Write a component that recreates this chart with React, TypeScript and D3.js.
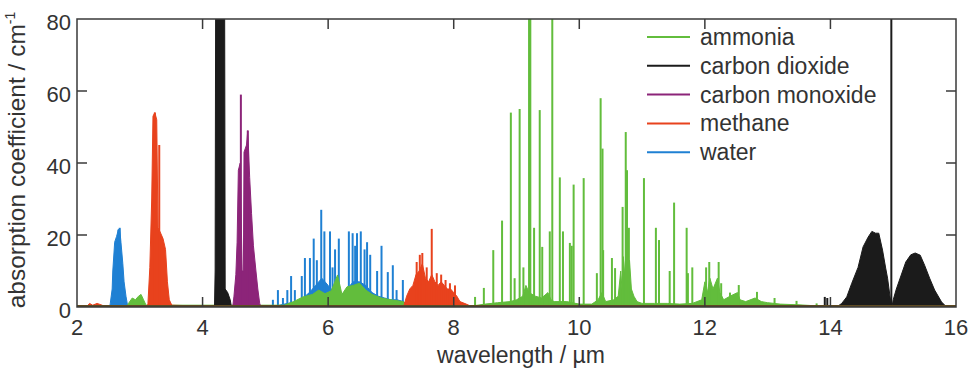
import React, { useEffect, useRef } from "react";
import * as d3 from "d3";

// wavelength (um), absorption coefficient (1/cm)
// "band" arrays are the dense envelopes, "lines" arrays are the single sharp lines

const ammoniaBand: [number, number][] = [
  [2.0, 0.3], [2.8, 0.3], [2.82, 1], [2.88, 2.5], [2.93, 2], [2.98, 3], [3.02, 3.5], [3.06, 2], [3.1, 0.5],
  [5.3, 0.5], [5.45, 1.5], [5.6, 2.8], [5.75, 3.5], [5.85, 4.7], [5.95, 3.7], [6.05, 4.5], [6.15, 8.9],
  [6.22, 3.5], [6.3, 5.6], [6.4, 6], [6.5, 6.6], [6.6, 4.7], [6.7, 3.5], [6.85, 2.5], [7.0, 2], [7.19, 1.5], [7.3, 0.3],
  [8.3, 0.3], [8.5, 0.8], [8.7, 1.2], [8.9, 1.5], [9.0, 2], [9.1, 3], [9.15, 6], [9.2, 4], [9.3, 3], [9.4, 2.5],
  [9.5, 4], [9.55, 2], [9.6, 1.5], [9.8, 1.5], [10.0, 0.8], [10.2, 0.8], [10.3, 2], [10.36, 4], [10.42, 1.5],
  [10.55, 2], [10.62, 3], [10.66, 10], [10.68, 5], [10.7, 14], [10.72, 9], [10.75, 17], [10.77, 11], [10.8, 13],
  [10.83, 5], [10.87, 3], [10.92, 1.5], [11.0, 1], [11.2, 1], [11.4, 1], [11.6, 0.8], [11.8, 1], [11.95, 2],
  [12.0, 7], [12.04, 4], [12.08, 8], [12.13, 5], [12.2, 8], [12.24, 4], [12.3, 2], [12.4, 3], [12.52, 4],
  [12.56, 2], [12.65, 1.5], [12.8, 2.5], [12.9, 1.5], [13.0, 1.2], [13.2, 0.8], [13.5, 0.6], [13.8, 0.3], [16.0, 0.3],
];
const ammoniaLines: [number, number][] = [
  [8.34, 2.8], [8.48, 5.3], [8.63, 15.8], [8.77, 24], [8.91, 54], [8.97, 8], [9.05, 55], [9.11, 11],
  [9.2, 90], [9.22, 90], [9.28, 22], [9.37, 54.7], [9.41, 16.7], [9.53, 21], [9.57, 90], [9.69, 36],
  [9.74, 21], [9.85, 17.8], [9.88, 17], [9.91, 34], [10.07, 35.8], [10.28, 9.4], [10.34, 58], [10.37, 44],
  [10.38, 15.8], [10.52, 13.6], [10.57, 10.8], [10.69, 27.8], [10.74, 48.6], [10.76, 38], [10.79, 22],
  [11.03, 35.8], [11.22, 22], [11.27, 18.6], [11.44, 10], [11.51, 29], [11.71, 22], [11.73, 9.4], [11.8, 11],
  [12.02, 11], [12.07, 12.5], [12.22, 12.5], [12.26, 6.6], [12.4, 4], [12.54, 6.1], [12.83, 4.2], [13.11, 2.5],
  [13.46, 1.7], [13.78, 1],
];

const co2Band: [number, number][] = [
  [4.19, 0], [4.2, 10], [4.21, 100], [4.35, 100], [4.36, 5], [4.4, 4], [4.44, 2], [4.46, 0],
  [14.1, 0], [14.18, 1], [14.26, 2.8], [14.34, 6.6], [14.44, 11], [14.52, 16.7], [14.6, 19.4], [14.66, 21],
  [14.72, 20.5], [14.77, 20.5], [14.83, 15.8], [14.88, 10.8], [14.91, 8], [14.95, 2.8], [14.98, 0],
  [15.0, 2], [15.05, 5], [15.1, 7.5], [15.2, 12.5], [15.28, 14.5], [15.35, 15], [15.43, 14.4], [15.5, 11.6],
  [15.58, 8], [15.66, 4.7], [15.77, 1.4], [15.85, 0],
];
const co2Lines: [number, number][] = [
  [13.91, 2.8], [13.95, 2.5], [14.97, 90],
];

const coBand: [number, number][] = [
  [4.48, 0], [4.5, 3], [4.53, 9], [4.55, 18], [4.57, 38], [4.6, 40], [4.63, 10], [4.65, 10], [4.66, 43],
  [4.7, 45], [4.72, 49], [4.75, 36], [4.78, 26], [4.81, 17], [4.85, 10], [4.88, 5], [4.91, 1], [4.93, 0],
];
const coLines: [number, number][] = [
  [4.61, 59], [4.72, 49],
];

const methaneBand: [number, number][] = [
  [2.15, 0], [2.2, 1], [2.25, 0.5], [2.32, 1], [2.4, 0.5], [2.45, 0],
  [3.12, 0], [3.13, 1], [3.16, 11], [3.19, 30], [3.21, 53], [3.24, 54], [3.27, 52], [3.29, 22], [3.32, 21],
  [3.37, 19], [3.41, 16], [3.44, 7], [3.47, 2], [3.51, 0.5], [3.7, 0.4], [3.72, 0],
  [7.2, 0], [7.25, 3], [7.3, 5], [7.35, 6], [7.4, 9], [7.45, 10], [7.5, 12], [7.55, 8], [7.6, 7], [7.65, 9],
  [7.7, 7], [7.75, 6], [7.8, 7], [7.85, 6], [7.9, 5], [7.95, 5], [8.0, 4], [8.05, 3], [8.1, 1.5], [8.2, 0.8], [8.3, 0],
];
const methaneLines: [number, number][] = [
  [3.24, 54], [3.31, 45], [7.41, 12.5], [7.46, 14.5], [7.5, 15], [7.57, 11], [7.65, 21.7], [7.73, 9.4],
  [7.8, 9], [7.87, 7.5], [7.94, 6.6], [8.02, 6],
];

const waterBand: [number, number][] = [
  [2.52, 0], [2.53, 1], [2.56, 5], [2.57, 10], [2.6, 18], [2.63, 19.6], [2.66, 21.5], [2.68, 21.8],
  [2.7, 18], [2.73, 12], [2.75, 7], [2.78, 3], [2.81, 0],
  [5.1, 0], [5.3, 0.8], [5.5, 1.5], [5.6, 2.5], [5.7, 4], [5.8, 6], [5.9, 8], [6.0, 6], [6.1, 4], [6.2, 3],
  [6.3, 5], [6.4, 7], [6.5, 7], [6.6, 6], [6.7, 4], [6.8, 3], [6.9, 2.5], [7.0, 2], [7.1, 2], [7.2, 1.5], [7.3, 0],
];
const waterLines: [number, number][] = [
  [2.66, 21.5], [2.68, 22], [5.12, 2], [5.2, 4.7], [5.28, 2.5], [5.35, 4.7], [5.41, 8.6], [5.47, 4.7],
  [5.58, 8.6], [5.63, 13.6], [5.71, 13.6], [5.77, 19], [5.82, 13], [5.89, 27], [5.94, 21], [6.03, 21],
  [6.07, 11], [6.11, 16], [6.17, 19], [6.33, 21], [6.39, 20.5], [6.43, 17], [6.46, 20.5], [6.52, 21],
  [6.58, 16], [6.62, 18], [6.67, 14.5], [6.78, 10], [6.85, 17], [6.95, 9.7], [7.03, 11.6], [7.09, 4.7], [7.19, 7.5],
];

const seriesNames = ["ammonia", "carbon dioxide", "carbon monoxide", "methane", "water"];
const seriesColors = ["#62bd3c", "#1b1b1b", "#8c2479", "#e8421d", "#1f80d3"];
const xTicks = [2, 4, 6, 8, 10, 12, 14, 16];
const yTicks = [0, 20, 40, 60, 80];

const font = "'Liberation Sans', Arial, Helvetica, sans-serif";

function MakeSvg(ref: React.MutableRefObject<null>) {
  const W = 969;
  const H = 372;
  const left = 77, right = 956, top = 19, bottom = 307;

  d3.select(ref.current).selectAll("*").remove();
  const svg = d3
    .select(ref.current)
    .append("svg")
    .attr("width", W)
    .attr("height", H)
    .style("position", "absolute")
    .style("left", 0)
    .style("top", 0)
    .style("background", "#fff");

  const x = d3.scaleLinear().domain([2, 16]).range([left, right]);
  const y = d3.scaleLinear().domain([0, 80]).range([bottom, top]);

  svg
    .append("clipPath")
    .attr("id", "plotclip")
    .append("rect")
    .attr("x", left)
    .attr("y", top)
    .attr("width", right - left)
    .attr("height", bottom - top);

  const plot = svg.append("g").attr("clip-path", "url(#plotclip)");

  const area = d3
    .area<[number, number]>()
    .x((d) => x(d[0]))
    .y0(y(0))
    .y1((d) => y(d[1]));

  // draw order: water first, the rest on top of it
  const layers: { band: [number, number][]; lines: [number, number][]; color: string }[] = [
    { band: waterBand, lines: waterLines, color: seriesColors[4] },
    { band: ammoniaBand, lines: ammoniaLines, color: seriesColors[0] },
    { band: co2Band, lines: co2Lines, color: seriesColors[1] },
    { band: coBand, lines: coLines, color: seriesColors[2] },
    { band: methaneBand, lines: methaneLines, color: seriesColors[3] },
  ];

  layers.forEach((l) => {
    plot
      .append("path")
      .datum(l.band)
      .attr("d", area)
      .style("fill", l.color)
      .style("stroke", l.color)
      .style("stroke-width", 1);

    plot
      .append("g")
      .selectAll("line")
      .data(l.lines)
      .enter()
      .append("line")
      .attr("x1", (d) => x(d[0]))
      .attr("x2", (d) => x(d[0]))
      .attr("y1", y(0))
      .attr("y2", (d) => y(d[1]))
      .style("stroke", l.color)
      .style("stroke-width", 2);
  });

  // zero line (all series overlap here)
  svg
    .append("line")
    .attr("x1", left)
    .attr("x2", right)
    .attr("y1", y(0) - 1)
    .attr("y2", y(0) - 1)
    .style("stroke", "#5e4a22")
    .style("stroke-width", 2);

  // frame
  svg
    .append("rect")
    .attr("x", left)
    .attr("y", top)
    .attr("width", right - left)
    .attr("height", bottom - top)
    .style("fill", "none")
    .style("stroke", "#3a3a3a")
    .style("stroke-width", 1.5);

  const tickLen = 10;
  const ticks = svg.append("g").style("stroke", "#3a3a3a").style("stroke-width", 1.5);
  xTicks.slice(1, -1).forEach((t) => {
    ticks.append("line").attr("x1", x(t)).attr("x2", x(t)).attr("y1", bottom).attr("y2", bottom - tickLen);
    ticks.append("line").attr("x1", x(t)).attr("x2", x(t)).attr("y1", top).attr("y2", top + tickLen);
  });
  yTicks.slice(1, -1).forEach((t) => {
    ticks.append("line").attr("x1", left).attr("x2", left + tickLen).attr("y1", y(t)).attr("y2", y(t));
    ticks.append("line").attr("x1", right).attr("x2", right - tickLen).attr("y1", y(t)).attr("y2", y(t));
  });

  // tick labels
  svg
    .append("g")
    .selectAll("text")
    .data(xTicks)
    .enter()
    .append("text")
    .attr("x", (d) => x(d))
    .attr("y", 335)
    .attr("text-anchor", "middle")
    .style("font-family", font)
    .style("font-size", "22px")
    .style("fill", "#333")
    .text((d) => d);

  svg
    .append("g")
    .selectAll("text")
    .data(yTicks)
    .enter()
    .append("text")
    .attr("x", left - 6)
    .attr("y", (d) => y(d) + 3)
    .attr("text-anchor", "end")
    .attr("dominant-baseline", "central")
    .style("font-family", font)
    .style("font-size", "22px")
    .style("fill", "#333")
    .text((d) => d);

  // axis titles
  svg
    .append("text")
    .attr("x", 521)
    .attr("y", 363)
    .attr("text-anchor", "middle")
    .style("font-family", font)
    .style("font-size", "23px")
    .style("fill", "#333")
    .text("wavelength / µm");

  const ylab = svg
    .append("text")
    .attr("text-anchor", "middle")
    .attr("transform", "translate(25,160)rotate(-90)")
    .style("font-family", font)
    .style("font-size", "24.5px")
    .style("fill", "#333");
  ylab.append("tspan").text("absorption coefficient / cm");
  ylab.append("tspan").attr("dy", -10).style("font-size", "14px").text("-1");

  // legend
  const legend = svg.append("g");
  seriesNames.forEach((name, i) => {
    const ly = 37 + i * 28.8;
    legend
      .append("line")
      .attr("x1", 647)
      .attr("x2", 690)
      .attr("y1", ly)
      .attr("y2", ly)
      .style("stroke", seriesColors[i])
      .style("stroke-width", 2);
    legend
      .append("text")
      .attr("x", 700)
      .attr("y", ly)
      .attr("dominant-baseline", "central")
      .style("font-family", font)
      .style("font-size", "23px")
      .style("fill", "#333")
      .text(name);
  });
}

const App = () => {
  const ref = useRef(null);
  useEffect(() => {
    MakeSvg(ref);
  }, []);
  return <div ref={ref} />;
};

export default App;
